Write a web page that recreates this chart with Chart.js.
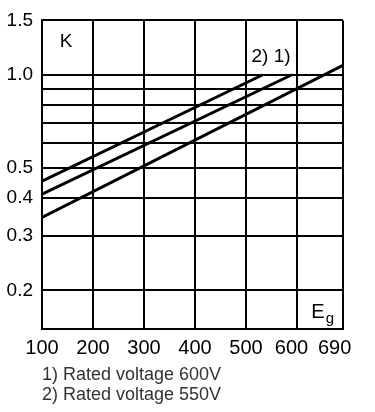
<!DOCTYPE html>
<html><head><meta charset="utf-8">
<script src="https://cdn.jsdelivr.net/npm/chart.js@4/dist/chart.umd.min.js"></script>
<style>html,body{margin:0;padding:0;background:#fff;overflow:hidden}</style>
</head><body>
<canvas id="c" width="375" height="412" style="display:block;width:375px;height:412px"></canvas>
<script>
// ---- data ----
const xTickValues = [100, 200, 300, 400, 500, 600, 690];
const yGridValues = [0.15, 0.2, 0.3, 0.4, 0.5, 0.6, 0.7, 0.8, 0.9, 1.0, 1.5];
const yLabelValues = [0.2, 0.3, 0.4, 0.5, 1.0, 1.5];
// 1) Rated voltage 600V (middle line)
const line1Eg = [100, 590];
const line1K = [0.41, 1.0];
// 2) Rated voltage 550V (upper line)
const line2Eg = [100, 533];
const line2K = [0.452, 1.0];
// unlabeled lower line
const line3Eg = [100, 690];
const line3K = [0.345, 1.073];
const notes = ["1) Rated voltage 600V", "2) Rated voltage 550V"];
const yTitle = "K";
const xTitle = ["E", "g"];
const curveTags = "2) 1)";

const FONT = '"Liberation Sans", Arial, sans-serif';
const toPts = (xs, ys) => xs.map((v, i) => ({x: v, y: ys[i]}));
const lineStyle = {borderColor: '#000', borderWidth: 3, pointRadius: 0, fill: false, tension: 0};

const annot = {
  id: 'annot',
  afterDraw(chart) {
    const {ctx, scales: {x, y}, chartArea} = chart;
    ctx.save();
    ctx.fillStyle = '#000';
    ctx.textBaseline = 'middle';
    ctx.textAlign = 'center';
    ctx.font = '19px ' + FONT;
    ctx.fillText(yTitle, x.getPixelForValue(147), y.getPixelForValue(1.28));
    ctx.font = '19px ' + FONT;
    ctx.fillText(curveTags, x.getPixelForValue(549), y.getPixelForValue(1.145));
    // E_g
    ctx.textAlign = 'left';
    ctx.font = '20px ' + FONT;
    const ex = x.getPixelForValue(628), ey = y.getPixelForValue(0.17);
    ctx.fillText(xTitle[0], ex, ey);
    const w = ctx.measureText(xTitle[0]).width;
    ctx.font = '15px ' + FONT;
    ctx.fillText(xTitle[1], ex + w + 1, ey + 7);
    // notes
    ctx.font = '18px ' + FONT;
    ctx.fillStyle = '#333';
    notes.forEach((t, i) => ctx.fillText(t, chartArea.left, chartArea.bottom + 46 + i * 20));
    ctx.restore();
  }
};

new Chart(document.getElementById('c'), {
  type: 'line',
  data: {
    datasets: [
      Object.assign({label: notes[0], data: toPts(line1Eg, line1K)}, lineStyle),
      Object.assign({label: notes[1], data: toPts(line2Eg, line2K)}, lineStyle),
      Object.assign({label: 'lower', data: toPts(line3Eg, line3K)}, lineStyle)
    ]
  },
  options: {
    responsive: false,
    devicePixelRatio: 1,
    animation: false,
    layout: {padding: {top: 15, right: 32, left: 0, bottom: 0}},
    plugins: {legend: {display: false}, tooltip: {enabled: false}},
    scales: {
      x: {
        type: 'linear', min: 100, max: 690,
        afterBuildTicks: s => { s.ticks = xTickValues.map(v => ({value: v})); },
        afterFit: s => { s.height = 83; },
        grid: {color: '#000', lineWidth: 2, drawTicks: false},
        border: {color: '#000', width: 2},
        ticks: {
          color: '#000', font: {family: FONT, size: 20}, padding: 7, maxRotation: 0, autoSkip: false,
          callback: v => v === 690 ? '690   ' : (v === 600 ? '600  ' : String(v))
        }
      },
      y: {
        type: 'logarithmic', min: 0.15, max: 1.5,
        afterBuildTicks: s => { s.ticks = yGridValues.map(v => ({value: v})); },
        afterFit: s => { s.width = 42; },
        grid: {color: '#000', lineWidth: 2, drawTicks: false},
        border: {color: '#000', width: 2},
        ticks: {
          color: '#000', font: {family: FONT, size: 19}, padding: 9, autoSkip: false,
          callback: v => yLabelValues.includes(v) ? v.toFixed(1) : ''
        }
      }
    }
  },
  plugins: [annot]
});
</script>
</body></html>
